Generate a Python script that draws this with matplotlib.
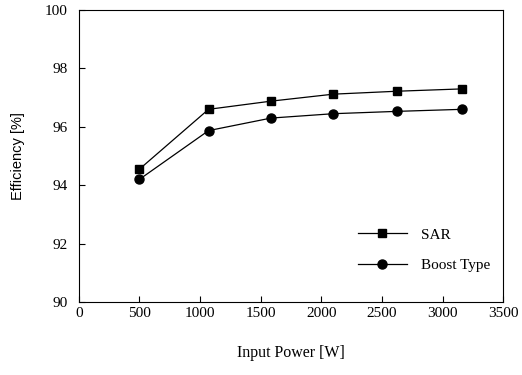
import matplotlib.pyplot as plt

power = [500, 1070, 1585, 2100, 2625, 3160]
sar = [94.55, 96.6, 96.88, 97.12, 97.22, 97.3]
boost = [94.2, 95.87, 96.3, 96.45, 96.53, 96.6]

xticks = [0, 500, 1000, 1500, 2000, 2500, 3000, 3500]
yticks = [90, 92, 94, 96, 98, 100]

fig = plt.figure(figsize=(5.22, 3.75), dpi=100)
ax = fig.add_axes([0.151, 0.195, 0.813, 0.778])

ax.plot(power, sar, color='black', lw=0.9, marker='s', ms=6, label='SAR')
ax.plot(power, boost, color='black', lw=0.9, marker='o', ms=6.5, label='Boost Type')

ax.set_xlim(0, 3500)
ax.set_ylim(90, 100)
ax.set_xticks(xticks)
ax.set_yticks(yticks)
ax.tick_params(direction='in', length=4, labelsize=11)
ax.tick_params(axis='y', pad=8)
for lab in ax.get_xticklabels() + ax.get_yticklabels():
    lab.set_family('Liberation Serif')

ax.set_xlabel('Input Power [W]', family='Liberation Serif', fontsize=11.5, labelpad=18)
ax.set_ylabel('Efficiency [%]', family='Liberation Sans', fontsize=10.5, labelpad=14)

leg = ax.legend(loc='lower right', bbox_to_anchor=(0.99, 0.07), frameon=False,
                prop={'family': 'Liberation Serif', 'size': 11}, handlelength=3.2,
                handletextpad=0.9, labelspacing=1.1, borderaxespad=0.2)

fig.savefig('out.png', dpi=100)
